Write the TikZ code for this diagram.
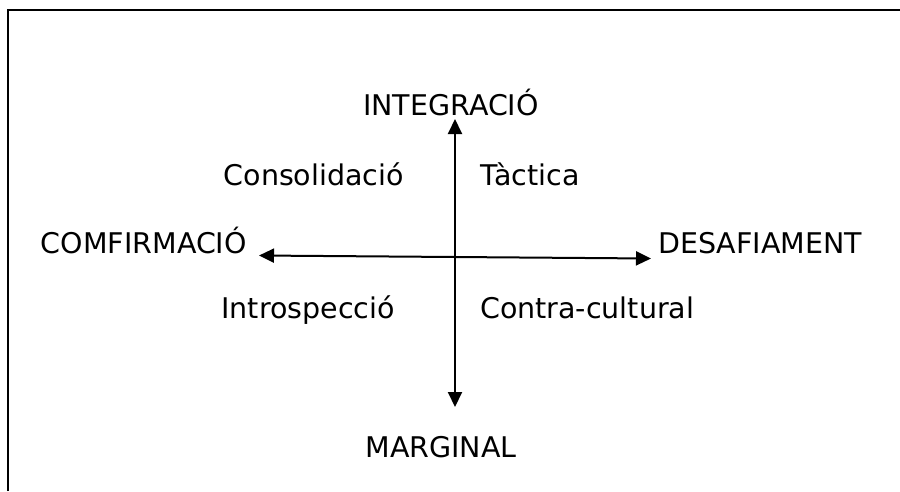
\documentclass[tikz,border=0pt]{standalone}
\usepackage{fontspec}
\setmainfont{DejaVu Sans}
\usetikzlibrary{arrows.meta}

\begin{document}
\begin{tikzpicture}
		[x=1pt,y=-1pt,line cap=round,
		%Styles
		frame line/.style={line width=2pt,line cap=butt},
		axis arrow/.style={line width=2pt,{Triangle[length=15pt,width=14pt]}-{Triangle[length=15pt,width=14pt]}},
		pole text/.style={inner sep=0pt,font=\fontsize{28.5}{34}\selectfont},
		quad text/.style={inner sep=0pt,font=\fontsize{28.5}{34}\selectfont}
		]
		
		%Size
		\useasboundingbox (0,0) rectangle (900,491);
		
		%The frame
		\draw[frame line] (8,491) -- (8,10) -- (900,10);
		
		%Poles
		\node[pole text,anchor=base] (integ) at (451,115) {INTEGRACIÓ};
		\node[pole text,anchor=base] (marg) at (441,457) {MARGINAL};
		\node[pole text,anchor=base east] (conf) at (247,253) {COMFIRMACIÓ};
		\node[pole text,anchor=base west] (desaf) at (658,253) {DESAFIAMENT};
		
		%Quadrants
		\node[quad text,anchor=base east] (consol) at (404,185) {Consolidació};
		\node[quad text,anchor=base west] (tact) at (480,185) {Tàctica};
		\node[quad text,anchor=base east] (intro) at (395,318) {Introspecció};
		\node[quad text,anchor=base west] (contra) at (480,318) {Contra-cultural};
		
		%Axes
		\coordinate (top) at (455,119);
		\coordinate (bottom) at (455,407);
		\coordinate (left) at (259,255.5);
		\coordinate (right) at (651,258.5);
		\draw[axis arrow] (top) -- (bottom);
		\draw[axis arrow] (left) -- (right);
	\end{tikzpicture}
\end{document}
